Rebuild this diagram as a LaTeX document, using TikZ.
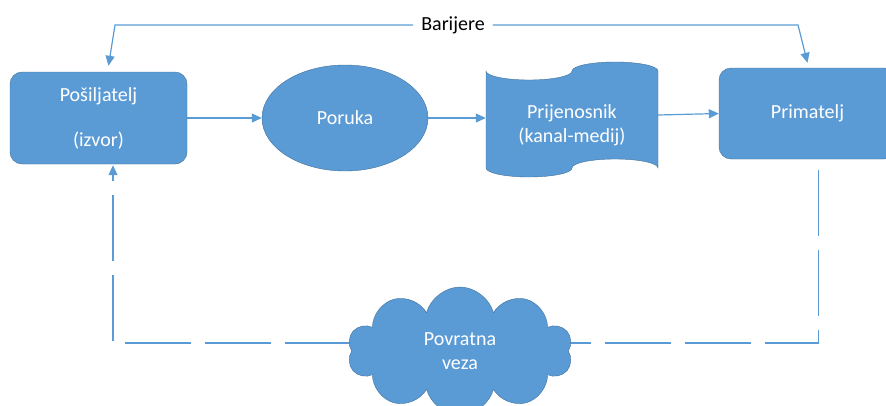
\documentclass[tikz,border=0pt]{standalone}
\usepackage{fontspec}
\setmainfont{Carlito}
\usetikzlibrary{shapes.geometric,shapes.symbols,arrows.meta}
\definecolor{offblue}{HTML}{5B9BD5}
\definecolor{offedge}{HTML}{41719C}

\begin{document}
\begin{tikzpicture}[x=1pt,y=-1pt,
font=\fontsize{20}{24}\selectfont,
boxnode/.style =
  {rectangle,
   draw=offedge, fill=offblue, text=white,
   rounded corners=12pt, align=center,
   minimum height=92pt, minimum width=177pt},
ovalnode/.style =
  {ellipse,
   draw=offedge, fill=offblue, text=white,
   minimum width=166pt, minimum height=106pt},
cloudnode/.style =
  {cloud, cloud puffs=10, aspect=1.8,
   draw=offedge, fill=offblue, text=white, align=center,
   minimum width=225pt, minimum height=128pt},
arr/.style = {draw=offblue, line width=1.2pt, -{Triangle[length=10pt,width=9pt]}},
fbline/.style = {arr, dash pattern=on 66pt off 14pt}
]
\useasboundingbox (0,0) rectangle (886,405);
%Nodes
\node[boxnode] (psl) at (98.5,118) {Pošiljatelj\\[21pt](izvor)};
\node[ovalnode] (poruka) at (345,118) {Poruka};
\path[draw=offedge, fill=offblue] (486,71)
  arc[start angle=180, end angle=0, x radius=43, y radius=9]
  arc[start angle=180, end angle=360, x radius=43, y radius=9] -- (658,168)
  arc[start angle=0, end angle=-180, x radius=43, y radius=9]
  arc[start angle=0, end angle=180, x radius=43, y radius=9] -- cycle;
\node[text=white, align=center, inner sep=0pt, minimum width=172pt, minimum height=97pt] (tape) at (572,125) {Prijenosnik\\(kanal-medij)};
\node[boxnode, minimum height=91pt] (prim) at (807.5,113.5) {Primatelj};
\node[inner xsep=8pt] (bar) at (453,25) {Barijere};
\coordinate (barl) at (115,25);
\coordinate (barr) at (798,25);
%Arrows
\draw[arr] (psl.east) -- (poruka.west);
\draw[arr] (poruka.east) -- ([yshift=7pt]tape.west);
\draw[arr] ([yshift=10pt]tape.east) -- (prim.west);
\draw[arr] (bar.west) -- (barl) -- ([xshift=10pt,yshift=6pt]psl.north);
\draw[arr] (bar.east) -- (barr) -- ([yshift=5pt]prim.north);
\coordinate (fbtop) at ([xshift=11pt,yshift=-11pt]prim.south);
\coordinate (fbr) at (fbtop |- 0,343);
\draw[fbline] (fbtop) -- (fbr) -| ([xshift=14.5pt,yshift=-1pt]psl.south);
\node[cloudnode] (veza) at (460,351) {Povratna\\veza};
\end{tikzpicture}
\end{document}
